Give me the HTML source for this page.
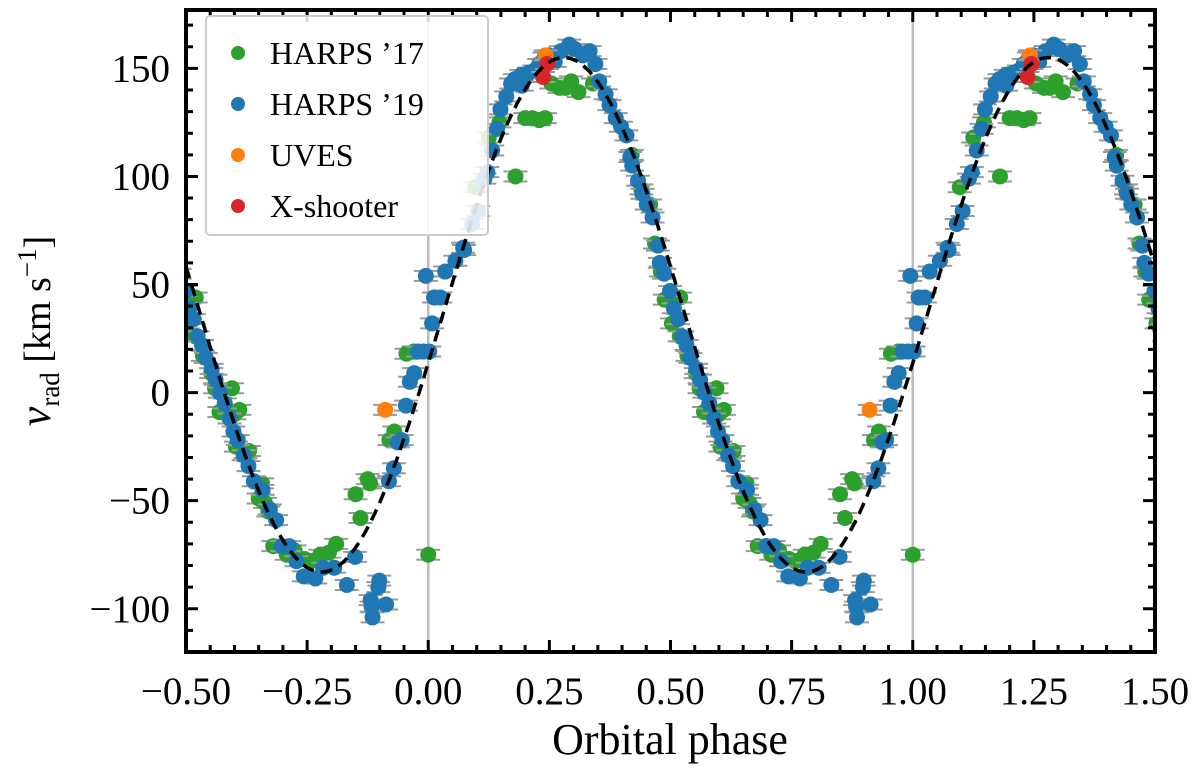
<!DOCTYPE html>
<html><head><meta charset="utf-8"><style>
body{margin:0;background:#fff;}
svg text{font-family:"Liberation Serif","DejaVu Serif",serif;fill:#000;}
</style></head><body>
<svg id="chart" width="1200" height="769" viewBox="0 0 1200 769" xmlns="http://www.w3.org/2000/svg">
<g id="plot"></g>
</svg>
<script>
// Data (phase in [0,1), velocity km/s)
const harps17Phase = [0.000,0.52,0.595,0.60,0.657,0.65,0.67,0.85,0.86,0.875,0.88,0.92,0.93,0.955,0.97,0.097,0.125,0.147,0.18,0.200,0.215,0.229,0.241,0.254,0.271,0.283,0.295,0.31,0.34,0.42,0.44,0.458,0.468,0.480,0.488,0.503,0.519,0.535,0.552,0.560,0.569,0.590,0.603,0.623,0.630,0.610,0.663,0.680,0.696,0.708,0.724,0.745,0.757,0.777,0.795,0.81];
const harps17Vel = [-75,44,2,-10,-42,-49,-55,-47,-58,-40,-42,-22,-18,18,19,95,118,125,100,127,127,126,127,143,141,141,144,139,143,110,94,87,69,56,43,32,26,17,9,2,-9,-12,-25,-28,-27,-8,-51,-71,-71,-75,-73,-77,-78,-75,-74,-70];
const harps19Phase = [0.002,0.012,0.008,0.014,0.025,0.035,0.056,0.072,0.074,0.091,0.103,0.116,0.122,0.132,0.142,0.149,0.161,0.171,0.179,0.192,0.193,0.208,0.219,0.229,0.240,0.249,0.261,0.274,0.291,0.302,0.319,0.333,0.345,0.353,0.366,0.374,0.387,0.398,0.409,0.417,0.421,0.433,0.442,0.451,0.463,0.474,0.478,0.487,0.499,0.507,0.516,0.524,0.533,0.541,0.553,0.561,0.570,0.580,0.590,0.598,0.607,0.619,0.629,0.640,0.658,0.673,0.686,0.698,0.713,0.728,0.743,0.767,0.783,0.806,0.832,0.849,0.881,0.883,0.885,0.897,0.899,0.913,0.919,0.929,0.937,0.945,0.954,0.962,0.971,0.979,0.99,0.995];
const harps19Vel = [19,44,32,44,44,56,61,67,66,78,84,99,102,112,122,131,137,143,145,147,142,148,149,152,155,156,153,158,161,159,156,158,152,144,138,133,127,123,119,109,105,98,92,87,81,68,60,55,47,39,34,26,22,16,11,6,0,-5,-12,-18,-22,-29,-34,-41,-45,-54,-59,-71,-71,-78,-85,-86,-81,-81,-89,-76,-96,-99,-104,-90,-87,-98,-41,-35,-23,-22,-6,5,9,19,19,54];
const uvesPhase = [0.911,0.242];
const uvesVel = [-8,156];
const xshPhase = [0.237,0.245];
const xshVel = [146,152];
const modelGamma = 36, modelK = 119, modelPhase0 = 0.28;
const xTicks = [-0.5,-0.25,0,0.25,0.5,0.75,1,1.25,1.5];
const xTickLabels = ["\u22120.50","\u22120.25","0.00","0.25","0.50","0.75","1.00","1.25","1.50"];
const yTicks = [-100,-50,0,50,100,150];
const yTickLabels = ["\u2212100","\u221250","0","50","100","150"];

const L=186,R=1155,T=10,B=652, X0=-0.5,X1=1.5, Y0=-120,Y1=177;
const sx=v=>L+(v-X0)/(X1-X0)*(R-L);
const sy=v=>B-(v-Y0)/(Y1-Y0)*(B-T);
const NS="http://www.w3.org/2000/svg";
const g=document.getElementById('plot');
function mk(tag,attrs,parent){const e=document.createElementNS(NS,tag);for(const k in attrs)e.setAttribute(k,attrs[k]);(parent||g).appendChild(e);return e;}

const clip=mk('clipPath',{id:'cp'});mk('rect',{x:L,y:T,width:R-L,height:B-T},clip);
[0,1].forEach(p=>{const l=mk('line',{x1:sx(p),x2:sx(p),y1:T,y2:B,stroke:'#bdbdbd','stroke-width':2.5});

});

const pts=mk('g',{'clip-path':'url(#cp)'});
function series(ph,vel,color,name){
  const sg=mk('g',{},pts);
  
  
  for(let i=0;i<ph.length;i++){
    for(const off of [-1,0,1]){
      const p=ph[i]+off; if(p<-0.53||p>1.53)continue;
      const x=sx(p),y=sy(vel[i]);
      mk('path',{d:`M${x-12},${y-5}H${x+12}M${x-12},${y+5}H${x+12}M${x},${y-5}V${y+5}`,stroke:'#9a9a9a','stroke-width':2,fill:'none'},sg);
    }
  }
  for(let i=0;i<ph.length;i++){
    for(const off of [-1,0,1]){
      const p=ph[i]+off; if(p<-0.53||p>1.53)continue;
      const c=mk('circle',{cx:sx(p),cy:sy(vel[i]),r:8,fill:color},sg);
      
      
    }
  }
}
series(harps17Phase,harps17Vel,'#2ca02c','harps17');
series(harps19Phase,harps19Vel,'#1f77b4','harps19');
series(uvesPhase,uvesVel,'#ff7f0e','uves');
series(xshPhase,xshVel,'#d62728','xshooter');
let d='';for(let i=0;i<=400;i++){const p=X0+(X1-X0)*i/400;const v=modelGamma+modelK*Math.cos(2*Math.PI*(p-modelPhase0));d+=(i?'L':'M')+sx(p).toFixed(1)+','+sy(v).toFixed(1);}
const mc=mk('path',{d:d,fill:'none',stroke:'#000','stroke-width':3.5,'stroke-dasharray':'12,7'},pts);



const fr=mk('rect',{x:L,y:T,width:R-L,height:B-T,fill:'none',stroke:'#000','stroke-width':4});


let td='';
for(let v=-0.5;v<=1.5001;v+=0.05){const x=sx(v);const maj=Math.abs(v*4-Math.round(v*4))<1e-6;const len=maj?12:7;td+=`M${x},${B}V${B-len}M${x},${T}V${T+len}`;}
for(let v=-120;v<=177;v+=10){const y=sy(v);const maj=v%50===0;const len=maj?12:7;td+=`M${L},${y}H${L+len}M${R},${y}H${R-len}`;}
mk('path',{d:td,stroke:'#000','stroke-width':3,fill:'none'});
xTicks.forEach((v,i)=>{const t=mk('text',{x:sx(v),y:704,'font-size':39,'text-anchor':'middle'});t.textContent=xTickLabels[i];

});
yTicks.forEach((v,i)=>{const t=mk('text',{x:170,y:sy(v)+13,'font-size':39,'text-anchor':'end'});t.textContent=yTickLabels[i];

});
const xl=mk('text',{x:670,y:754,'font-size':44,'text-anchor':'middle'});xl.textContent='Orbital phase';


const yl=mk('text',{transform:'translate(50,331) rotate(-90)','font-size':38,'text-anchor':'middle'});
yl.innerHTML='<tspan font-style="italic" font-size="44">v</tspan><tspan font-size="27" dy="9">rad</tspan><tspan dy="-9"> [km s</tspan><tspan font-size="27" dy="-14">\u22121</tspan><tspan dy="14">]</tspan>';



const lg=mk('g',{});


mk('rect',{x:206,y:16,width:282,height:219,rx:4,fill:'#fff','fill-opacity':0.85,stroke:'#ccc','stroke-width':2},lg);
[['HARPS \u201917','#2ca02c'],['HARPS \u201919','#1f77b4'],['UVES','#ff7f0e'],['X-shooter','#d62728']].forEach((e,i)=>{
  const y=53+i*51;
  const eg=mk('g',{},lg);
  
  
  mk('circle',{cx:238,cy:y,r:7,fill:e[1]},eg);
  const t=mk('text',{x:270,y:y+11,'font-size':32},eg);t.textContent=e[0];
});
</script>
</body></html>
